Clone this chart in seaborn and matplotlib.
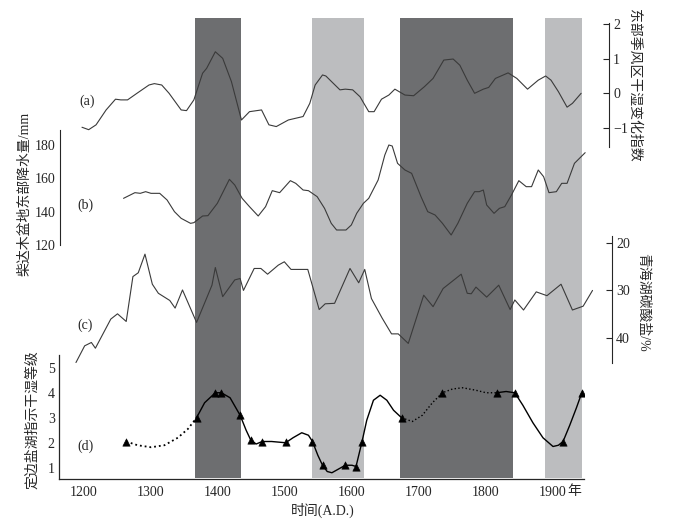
import numpy as np
import matplotlib.pyplot as plt
import seaborn as sns

sns.set_style('white')
plt.rcParams['font.family'] = ['Liberation Serif', 'Noto Sans CJK SC']
plt.rcParams['axes.unicode_minus'] = False

# (a) 东部季风区干湿变化指数
a_year = [1197, 1207, 1218, 1233, 1247, 1255, 1265, 1279, 1297, 1305, 1316, 1327, 1345, 1353, 1364,
          1377, 1383, 1396, 1407, 1420, 1435, 1447, 1465, 1476, 1487, 1505, 1527, 1537, 1545, 1556,
          1561, 1572, 1582, 1590, 1601, 1612, 1625, 1633, 1644, 1655, 1664, 1679, 1692, 1708, 1721,
          1737, 1751, 1761, 1772, 1783, 1796, 1804, 1814, 1833, 1846, 1862, 1878, 1889, 1897, 1908,
          1921, 1929, 1942]
a_val = [-0.98, -1.05, -0.91, -0.48, -0.17, -0.19, -0.19, 0.0, 0.24, 0.28, 0.24, 0.0, -0.48, -0.50, -0.19,
         0.58, 0.72, 1.20, 1.01, 0.34, -0.77, -0.53, -0.48, -0.91, -0.96, -0.77, -0.67, -0.29, 0.24, 0.53,
         0.50, 0.29, 0.10, 0.12, 0.10, -0.10, -0.53, -0.53, -0.17, -0.05, 0.12, -0.05, -0.07, 0.19, 0.43,
         0.96, 0.99, 0.81, 0.38, 0.0, 0.12, 0.17, 0.43, 0.59, 0.43, 0.12, 0.38, 0.50, 0.38, 0.05,
         -0.40, -0.29, 0.0]

# (b) 柴达木盆地东部降水量 mm
b_year = [1259, 1276, 1284, 1292, 1300, 1313, 1324, 1335, 1345, 1359, 1364, 1377, 1385, 1399, 1409,
          1417, 1425, 1436, 1447, 1460, 1471, 1481, 1492, 1508, 1516, 1527, 1535, 1548, 1559, 1569,
          1577, 1591, 1599, 1607, 1617, 1625, 1639, 1649, 1655, 1660, 1668, 1679, 1689, 1703, 1713,
          1724, 1735, 1748, 1758, 1772, 1783, 1790, 1796, 1801, 1812, 1820, 1828, 1838, 1849, 1860,
          1868, 1878, 1886, 1894, 1905, 1913, 1921, 1932, 1948]
b_val = [148, 151.4, 151, 152, 151, 151, 147, 140, 136, 133, 133.4, 137.4, 137.6, 145, 153,
         159.4, 156, 148, 143, 137.4, 143, 152.6, 151.4, 158.6, 157, 153, 152.6, 149, 142, 133,
         129, 129, 132, 139, 145, 148, 159, 174, 180, 179.4, 169, 165, 163, 149, 140,
         138, 133, 126, 133, 145, 152, 152, 153, 144, 139, 142, 143, 150, 158.6, 155,
         155, 165, 161, 151.4, 152, 157, 157, 169, 175.4]

# (c) 青海湖碳酸盐 %
c_year = [1188, 1201, 1211, 1217, 1240, 1250, 1263, 1273, 1281, 1291, 1302, 1311, 1328, 1336, 1347,
          1368, 1381, 1391, 1396, 1407, 1425, 1433, 1438, 1454, 1464, 1474, 1490, 1499, 1509, 1534,
          1551, 1560, 1574, 1597, 1610, 1619, 1629, 1645, 1659, 1669, 1684, 1707, 1721, 1736, 1763,
          1772, 1778, 1785, 1801, 1819, 1836, 1843, 1856, 1875, 1891, 1912, 1929, 1945, 1959]
c_val = [45.1, 41.6, 40.9, 42.1, 36.0, 34.9, 36.5, 27.1, 26.3, 22.4, 28.7, 30.6, 32.1, 33.7, 29.9,
         36.7, 32.3, 28.9, 25.2, 31.3, 27.8, 27.5, 30.0, 25.4, 25.4, 26.6, 24.7, 24.0, 25.6, 25.6,
         34.0, 32.8, 32.7, 25.4, 28.4, 25.6, 31.7, 35.8, 39.1, 39.1, 41.1, 31.0, 33.4, 29.6, 26.6,
         30.6, 30.7, 29.3, 31.4, 28.9, 34.0, 32.0, 34.1, 30.3, 31.1, 28.7, 34.1, 33.3, 30.0]

# (d) 定边盐湖指示干湿等级
d_pt_year = [1263, 1368, 1396, 1405, 1433, 1449, 1466, 1501, 1541, 1556, 1590, 1606, 1615,
             1674, 1735, 1816, 1843, 1915, 1943]
d_pt_val = [2.05, 3, 4, 4, 3.1, 2.1, 2.05, 2.05, 2.05, 1.1, 1.1, 1.05, 2.05, 3, 4, 4, 4, 2.05, 4]
d_dot1_year = [1263, 1280, 1300, 1320, 1340, 1355, 1368]
d_dot1_val = [2.05, 1.9, 1.82, 1.9, 2.2, 2.55, 3.0]
d_sol1_year = [1368, 1380, 1396, 1405, 1418, 1433, 1442, 1449, 1457, 1466, 1480, 1501, 1512, 1525,
               1535, 1541, 1549, 1556, 1563, 1570, 1580, 1590, 1600, 1606, 1615, 1622, 1632, 1642,
               1652, 1662, 1674]
d_sol1_val = [3.0, 3.6, 4.0, 4.0, 3.8, 3.1, 2.5, 2.1, 1.95, 2.05, 2.05, 2.0, 2.2, 2.4,
              2.3, 2.05, 1.5, 1.1, 0.85, 0.8, 0.95, 1.1, 1.1, 1.05, 2.05, 2.9, 3.7, 3.9,
              3.7, 3.3, 3.0]
d_dot2_year = [1674, 1690, 1705, 1720, 1735, 1750, 1765, 1785, 1800, 1816]
d_dot2_val = [3.0, 2.85, 3.1, 3.6, 4.0, 4.15, 4.2, 4.1, 4.0, 4.0]
d_sol2_year = [1816, 1830, 1843, 1855, 1870, 1885, 1900, 1908, 1915, 1925, 1935, 1943]
d_sol2_val = [4.0, 4.05, 4.0, 3.5, 2.8, 2.2, 1.85, 1.9, 2.05, 2.7, 3.4, 4.0]

dark_bands = [(1365, 1435), (1672, 1840)]
light_bands = [(1540, 1618), (1888, 1943)]
x_ticks = [1200, 1300, 1400, 1500, 1600, 1700, 1800, 1900]

W, H = 673, 521
fig = plt.figure(figsize=(W / 100, H / 100), dpi=100)


def yr(px):
    return 1200 + (px - 84) / 0.67


def make_ax(left, right, top, bottom):
    ax = fig.add_axes([left / W, 1 - bottom / H, (right - left) / W, (bottom - top) / H])
    ax.set_xlim(yr(left), yr(right))
    ax.patch.set_alpha(0)
    for s in ax.spines.values():
        s.set_visible(False)
    ax.set_xticks([])
    ax.tick_params(axis='y', direction='in', length=4, labelsize=10, width=0.8, pad=3)
    return ax


line_kw = dict(color='#3a3a3a', linewidth=0.8, sort=False, estimator=None)

# shaded bands
bg = make_ax(60, 600, 18, 478)
bg.set_yticks([])
for x0, x1 in dark_bands:
    bg.axvspan(x0, x1, color='#6d6e70', lw=0)
for x0, x1 in light_bands:
    bg.axvspan(x0, x1, color='#bcbdbf', lw=0)

# (a)
ax_a = make_ax(60, 609, 23, 147)
sns.lineplot(x=a_year, y=a_val, ax=ax_a, **line_kw)
ax_a.set_ylim(-1.55, 2.03)
ax_a.yaxis.tick_right()
ax_a.spines['right'].set_visible(True)
ax_a.set_yticks([-1, 0, 1, 2])
ax_a.set_yticklabels(['\u22121', '0', '1', '2'])
fig.text(634 / W, 1 - 85 / H, '东部季风区干湿变化指数', rotation=270, ha='center', va='center', fontsize=10)

# (b)
ax_b = make_ax(60, 600, 130, 245)
sns.lineplot(x=b_year, y=b_val, ax=ax_b, **line_kw)
ax_b.set_ylim(120, 189)
ax_b.spines['left'].set_visible(True)
ax_b.set_yticks([120, 140, 160, 180])
fig.text(25 / W, 1 - 194 / H, '柴达木盆地东部降水量/mm', rotation=90, ha='center', va='center', fontsize=10)

# (c)
ax_c = make_ax(60, 612, 236, 363)
sns.lineplot(x=c_year, y=c_val, ax=ax_c, **line_kw)
ax_c.set_ylim(45.2, 18.6)
ax_c.yaxis.tick_right()
ax_c.spines['right'].set_visible(True)
ax_c.set_yticks([20, 30, 40])
fig.text(643 / W, 1 - 302 / H, '青海湖碳酸盐/%', rotation=270, ha='center', va='center', fontsize=10)

# (d)
ax_d = make_ax(59, 584, 355, 479)
ax_d.set_ylim(0.55, 5.51)
sns.lineplot(x=d_dot1_year, y=d_dot1_val, ax=ax_d, color='black', lw=1.3, linestyle=':', sort=False, estimator=None)
sns.lineplot(x=d_sol1_year, y=d_sol1_val, ax=ax_d, color='black', lw=1.0, sort=False, estimator=None)
sns.lineplot(x=d_dot2_year, y=d_dot2_val, ax=ax_d, color='black', lw=1.0, linestyle=':', sort=False, estimator=None)
sns.lineplot(x=d_sol2_year, y=d_sol2_val, ax=ax_d, color='black', lw=1.0, sort=False, estimator=None)
sns.scatterplot(x=d_pt_year, y=d_pt_val, ax=ax_d, marker='^', color='black', s=28, edgecolor='black', zorder=5)
ax_d.spines['left'].set_visible(True)
ax_d.spines['bottom'].set_visible(True)
ax_d.set_yticks([1, 2, 3, 4, 5])
ax_d.set_xticks(x_ticks)
ax_d.set_xlim(yr(59), yr(584))
ax_d.tick_params(axis='x', direction='in', length=4, labelsize=10, width=0.8, pad=5)
for s in ax_d.spines.values():
    s.set_linewidth(0.9)
fig.text(33 / W, 1 - 420 / H, '定边盐湖指示干湿等级', rotation=90, ha='center', va='center', fontsize=10)
fig.text(574 / W, 1 - 492 / H, '年', ha='center', va='center', fontsize=10)
fig.text(323 / W, 1 - 510 / H, '时间(A.D.)', ha='center', va='center', fontsize=10)

for lab, (px, py) in zip(['(a)', '(b)', '(c)', '(d)'], [(87, 101), (85, 205), (85, 325), (85, 446)]):
    fig.text(px / W, 1 - py / H, lab, ha='center', va='center', fontsize=10)

for ax in [ax_a, ax_b, ax_c, ax_d]:
    ax.set_xlabel('')
    ax.set_ylabel('')

fig.savefig('out.png', dpi=100)
